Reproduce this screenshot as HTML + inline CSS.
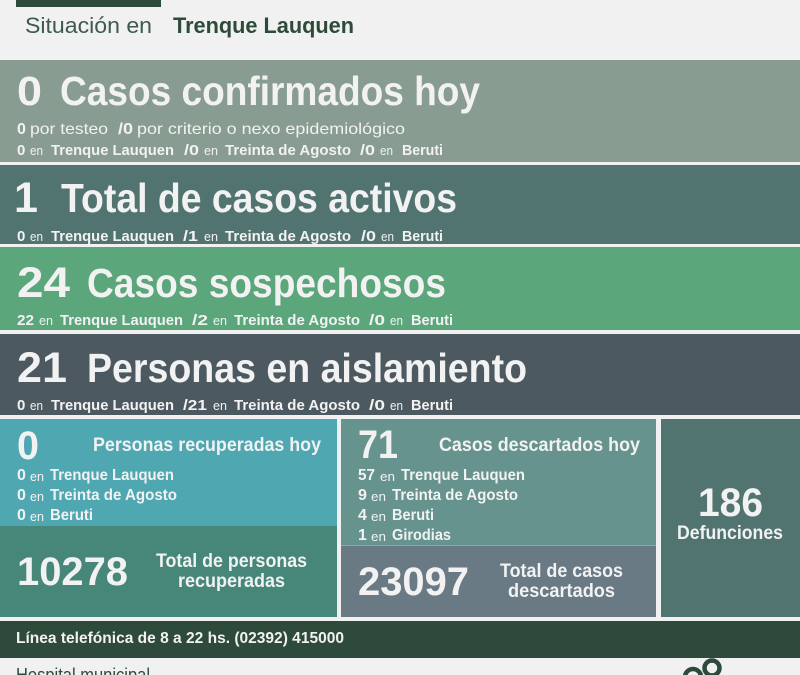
<!DOCTYPE html>
<html>
<head>
<meta charset="utf-8">
<style>
html,body{margin:0;padding:0;background:#f1f1f1;}
svg{display:block;}
text{font-family:"Liberation Sans",Arial,sans-serif;}
.w{fill:#f2f2f2;}
.b{font-weight:bold;}
</style>
</head>
<body>
<svg width="800" height="675" viewBox="0 0 800 675" xmlns="http://www.w3.org/2000/svg">
<rect x="0" y="0" width="800" height="675" fill="#f1f1f1"/>
<!-- header -->
<rect x="16" y="0" width="145" height="7" fill="#2d4a3b"/>
<text x="25" y="33" font-size="22" fill="#3e5a50" textLength="127" lengthAdjust="spacingAndGlyphs">Situación en</text>
<text x="173" y="33" font-size="22" class="b" fill="#2d4a3b" textLength="181" lengthAdjust="spacingAndGlyphs">Trenque Lauquen</text>

<!-- bands -->
<rect x="0" y="60" width="800" height="102" fill="#889c91"/>
<rect x="0" y="165" width="800" height="79" fill="#527470"/>
<rect x="0" y="247" width="800" height="83" fill="#5ba67b"/>
<rect x="0" y="334" width="800" height="81" fill="#4c5960"/>

<!-- band1 -->
<g class="w">
<text x="17" y="105" font-size="41" class="b" textLength="25" lengthAdjust="spacingAndGlyphs">0</text>
<text x="60" y="105" font-size="41" class="b" textLength="420" lengthAdjust="spacingAndGlyphs">Casos confirmados hoy</text>
<text x="17" y="134" font-size="16" class="b">0</text>
<text x="30" y="134" font-size="16" textLength="78" lengthAdjust="spacingAndGlyphs">por testeo</text>
<text x="118" y="134" font-size="16" class="b" textLength="15" lengthAdjust="spacingAndGlyphs">/0</text>
<text x="137" y="134" font-size="16" textLength="268" lengthAdjust="spacingAndGlyphs">por criterio o nexo epidemiológico</text>

<text x="17" y="155" font-size="15" class="b">0</text>
<text x="30" y="155" font-size="13" textLength="13" lengthAdjust="spacingAndGlyphs">en</text>
<text x="51" y="155" font-size="15" class="b" textLength="123" lengthAdjust="spacingAndGlyphs">Trenque Lauquen</text>
<text x="184" y="155" font-size="15" class="b" textLength="15" lengthAdjust="spacingAndGlyphs">/0</text>
<text x="204" y="155" font-size="13" textLength="14" lengthAdjust="spacingAndGlyphs">en</text>
<text x="225" y="155" font-size="15" class="b" textLength="126" lengthAdjust="spacingAndGlyphs">Treinta de Agosto</text>
<text x="360" y="155" font-size="15" class="b" textLength="15" lengthAdjust="spacingAndGlyphs">/0</text>
<text x="380" y="155" font-size="13" textLength="13" lengthAdjust="spacingAndGlyphs">en</text>
<text x="402" y="155" font-size="15" class="b" textLength="41" lengthAdjust="spacingAndGlyphs">Beruti</text>

<!-- band2 -->
<text x="14" y="212" font-size="43" class="b">1</text>
<text x="61" y="212" font-size="41" class="b" textLength="396" lengthAdjust="spacingAndGlyphs">Total de casos activos</text>
<text x="17" y="241" font-size="15" class="b">0</text>
<text x="30" y="241" font-size="13" textLength="13" lengthAdjust="spacingAndGlyphs">en</text>
<text x="51" y="241" font-size="15" class="b" textLength="123" lengthAdjust="spacingAndGlyphs">Trenque Lauquen</text>
<text x="183" y="241" font-size="15" class="b" textLength="15" lengthAdjust="spacingAndGlyphs">/1</text>
<text x="204" y="241" font-size="13" textLength="14" lengthAdjust="spacingAndGlyphs">en</text>
<text x="225" y="241" font-size="15" class="b" textLength="126" lengthAdjust="spacingAndGlyphs">Treinta de Agosto</text>
<text x="361" y="241" font-size="15" class="b" textLength="15" lengthAdjust="spacingAndGlyphs">/0</text>
<text x="381" y="241" font-size="13" textLength="13" lengthAdjust="spacingAndGlyphs">en</text>
<text x="402" y="241" font-size="15" class="b" textLength="41" lengthAdjust="spacingAndGlyphs">Beruti</text>

<!-- band3 -->
<text x="17" y="297" font-size="43" class="b" textLength="53" lengthAdjust="spacingAndGlyphs">24</text>
<text x="87" y="297" font-size="41" class="b" textLength="359" lengthAdjust="spacingAndGlyphs">Casos sospechosos</text>
<text x="17" y="325" font-size="15" class="b" textLength="17" lengthAdjust="spacingAndGlyphs">22</text>
<text x="39" y="325" font-size="13" textLength="14" lengthAdjust="spacingAndGlyphs">en</text>
<text x="60" y="325" font-size="15" class="b" textLength="123" lengthAdjust="spacingAndGlyphs">Trenque Lauquen</text>
<text x="192" y="325" font-size="15" class="b" textLength="16" lengthAdjust="spacingAndGlyphs">/2</text>
<text x="213" y="325" font-size="13" textLength="14" lengthAdjust="spacingAndGlyphs">en</text>
<text x="234" y="325" font-size="15" class="b" textLength="126" lengthAdjust="spacingAndGlyphs">Treinta de Agosto</text>
<text x="369" y="325" font-size="15" class="b" textLength="16" lengthAdjust="spacingAndGlyphs">/0</text>
<text x="390" y="325" font-size="13" textLength="13" lengthAdjust="spacingAndGlyphs">en</text>
<text x="411" y="325" font-size="15" class="b" textLength="42" lengthAdjust="spacingAndGlyphs">Beruti</text>

<!-- band4 -->
<text x="17" y="382" font-size="43" class="b" textLength="50" lengthAdjust="spacingAndGlyphs">21</text>
<text x="87" y="382" font-size="41" class="b" textLength="440" lengthAdjust="spacingAndGlyphs">Personas en aislamiento</text>
<text x="17" y="410" font-size="15" class="b">0</text>
<text x="30" y="410" font-size="13" textLength="13" lengthAdjust="spacingAndGlyphs">en</text>
<text x="51" y="410" font-size="15" class="b" textLength="123" lengthAdjust="spacingAndGlyphs">Trenque Lauquen</text>
<text x="183" y="410" font-size="15" class="b" textLength="24" lengthAdjust="spacingAndGlyphs">/21</text>
<text x="213" y="410" font-size="13" textLength="14" lengthAdjust="spacingAndGlyphs">en</text>
<text x="234" y="410" font-size="15" class="b" textLength="126" lengthAdjust="spacingAndGlyphs">Treinta de Agosto</text>
<text x="369" y="410" font-size="15" class="b" textLength="16" lengthAdjust="spacingAndGlyphs">/0</text>
<text x="390" y="410" font-size="13" textLength="13" lengthAdjust="spacingAndGlyphs">en</text>
<text x="411" y="410" font-size="15" class="b" textLength="42" lengthAdjust="spacingAndGlyphs">Beruti</text>
</g>

<!-- boxes -->
<rect x="0" y="419" width="337" height="107" fill="#4fa7b1"/>
<rect x="0" y="526" width="337" height="91" fill="#47877a"/>
<rect x="341" y="419" width="315" height="126" fill="#67938e"/>
<rect x="341" y="545" width="315" height="72" fill="#6a7a84"/>
<rect x="661" y="419" width="139" height="198" fill="#527470"/>
<line x1="341" y1="545.5" x2="656" y2="545.5" stroke="#8fa8a6" stroke-width="1"/>

<g class="w">
<!-- teal box -->
<text x="17" y="459" font-size="40" class="b" textLength="22" lengthAdjust="spacingAndGlyphs">0</text>
<text x="93" y="451" font-size="19" class="b" textLength="228" lengthAdjust="spacingAndGlyphs">Personas recuperadas hoy</text>
<text x="17" y="480" font-size="16" class="b">0</text>
<text x="30" y="481" font-size="13" textLength="14" lengthAdjust="spacingAndGlyphs">en</text>
<text x="50" y="480" font-size="16" class="b" textLength="124" lengthAdjust="spacingAndGlyphs">Trenque Lauquen</text>
<text x="17" y="500" font-size="16" class="b">0</text>
<text x="30" y="501" font-size="13" textLength="14" lengthAdjust="spacingAndGlyphs">en</text>
<text x="50" y="500" font-size="16" class="b" textLength="127" lengthAdjust="spacingAndGlyphs">Treinta de Agosto</text>
<text x="17" y="520" font-size="16" class="b">0</text>
<text x="30" y="521" font-size="13" textLength="14" lengthAdjust="spacingAndGlyphs">en</text>
<text x="50" y="520" font-size="16" class="b" textLength="43" lengthAdjust="spacingAndGlyphs">Beruti</text>

<!-- lower left -->
<text x="17" y="585" font-size="40" class="b" textLength="111" lengthAdjust="spacingAndGlyphs">10278</text>
<text x="156" y="567" font-size="19" class="b" textLength="151" lengthAdjust="spacingAndGlyphs">Total de personas</text>
<text x="178" y="587" font-size="19" class="b" textLength="107" lengthAdjust="spacingAndGlyphs">recuperadas</text>

<!-- middle top -->
<text x="358" y="458" font-size="40" class="b" textLength="40" lengthAdjust="spacingAndGlyphs">71</text>
<text x="439" y="451" font-size="19" class="b" textLength="201" lengthAdjust="spacingAndGlyphs">Casos descartados hoy</text>
<text x="358" y="480" font-size="16" class="b" textLength="17" lengthAdjust="spacingAndGlyphs">57</text>
<text x="380" y="481" font-size="13" textLength="15" lengthAdjust="spacingAndGlyphs">en</text>
<text x="401" y="480" font-size="16" class="b" textLength="124" lengthAdjust="spacingAndGlyphs">Trenque Lauquen</text>
<text x="358" y="500" font-size="16" class="b">9</text>
<text x="371" y="501" font-size="13" textLength="15" lengthAdjust="spacingAndGlyphs">en</text>
<text x="392" y="500" font-size="16" class="b" textLength="126" lengthAdjust="spacingAndGlyphs">Treinta de Agosto</text>
<text x="358" y="520" font-size="16" class="b">4</text>
<text x="371" y="521" font-size="13" textLength="15" lengthAdjust="spacingAndGlyphs">en</text>
<text x="392" y="520" font-size="16" class="b" textLength="42" lengthAdjust="spacingAndGlyphs">Beruti</text>
<text x="358" y="540" font-size="16" class="b">1</text>
<text x="371" y="541" font-size="13" textLength="15" lengthAdjust="spacingAndGlyphs">en</text>
<text x="392" y="540" font-size="16" class="b" textLength="59" lengthAdjust="spacingAndGlyphs">Girodias</text>

<!-- middle bottom -->
<text x="358" y="595" font-size="40" class="b" textLength="111" lengthAdjust="spacingAndGlyphs">23097</text>
<text x="500" y="577" font-size="19" class="b" textLength="123" lengthAdjust="spacingAndGlyphs">Total de casos</text>
<text x="508" y="597" font-size="19" class="b" textLength="107" lengthAdjust="spacingAndGlyphs">descartados</text>

<!-- defunciones -->
<text x="698" y="516" font-size="40" class="b" textLength="65" lengthAdjust="spacingAndGlyphs">186</text>
<text x="677" y="539" font-size="19" class="b" textLength="106" lengthAdjust="spacingAndGlyphs">Defunciones</text>
</g>

<!-- footer -->
<rect x="0" y="621" width="800" height="37" fill="#2e4a3b"/>
<text x="16" y="643" font-size="16" class="b w" textLength="328" lengthAdjust="spacingAndGlyphs">Línea telefónica de 8 a 22 hs. (02392) 415000</text>

<!-- bottom -->
<text x="16" y="681" font-size="18" fill="#2e4a3b" textLength="134" lengthAdjust="spacingAndGlyphs">Hospital municipal</text>
<circle cx="693" cy="677" r="8" fill="none" stroke="#2e4a3b" stroke-width="4.5"/>
<circle cx="712" cy="668" r="7.5" fill="none" stroke="#2e4a3b" stroke-width="4.5"/>
<text x="737" y="680" font-size="9" fill="#b5b5b5">· · · · ·</text>
</svg>
</body>
</html>
